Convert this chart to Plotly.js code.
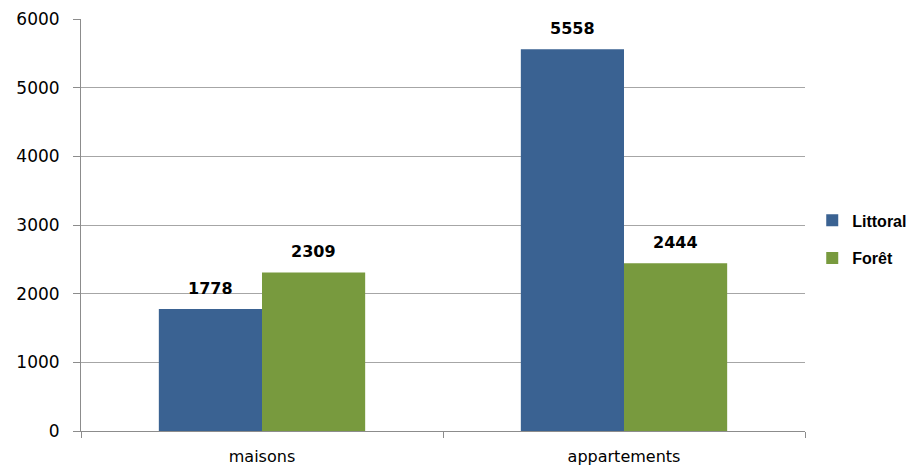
<!DOCTYPE html>
<html><head><meta charset="utf-8">
<script src="https://cdn.plot.ly/plotly-3.0.1.min.js"></script>
<style>body{margin:0;background:#fff}#c{width:910px;height:468px}</style>
</head><body><div id="c"></div>
<script>
const categories = ["maisons", "appartements"];
const littoral = [1778, 5558];
const foret = [2309, 2444];
const seriesNames = ["Littoral", "Forêt"];
const yTicks = [0, 1000, 2000, 3000, 4000, 5000, 6000];

const traces = [
  {type: "bar", name: seriesNames[0], legendgroup: "a", x: categories, y: littoral, marker: {color: "#3A6292"}},
  {type: "bar", name: seriesNames[1], legendgroup: "b", x: categories, y: foret, marker: {color: "#789A3E"}}
];
const labelFont = {family: "DejaVu Sans", size: 16, color: "#000", weight: "bold"};
const annotations = [];
[littoral, foret].forEach((vals, s) => {
  vals.forEach((v, i) => {
    annotations.push({x: categories[i], y: v, xref: "x", yref: "y", text: String(v), showarrow: false,
      xshift: s === 0 ? -51.5 : 51.5, yshift: 9, yanchor: "bottom", font: labelFont});
  });
});
const layout = {
  width: 910, height: 468,
  margin: {l: 81, r: 105, t: 19, b: 37, autoexpand: false},
  paper_bgcolor: "#fff", plot_bgcolor: "#fff",
  barmode: "group", bargap: 0.43, bargroupgap: 0,
  annotations: annotations,
  showlegend: true,
  legend: {x: 1.01, xanchor: "left", y: 0.465, yanchor: "middle", font: {family: "Liberation Sans", size: 16, color: "#000", weight: "bold"},
    tracegroupgap: 14, itemwidth: 30, bgcolor: "rgba(0,0,0,0)"},
  xaxis: {type: "category", showline: true, linecolor: "#8c8c8c", linewidth: 1, ticks: "outside", tickson: "boundaries", ticklen: 6, tickcolor: "#8c8c8c",
    tickfont: {family: "DejaVu Sans", size: 16, color: "#000"}, ticklabelstandoff: 11, showgrid: false},
  yaxis: {range: [0, 6000], tickvals: yTicks, ticktext: yTicks.map(String), showline: true, linecolor: "#8c8c8c", linewidth: 1,
    ticks: "outside", ticklen: 7, tickcolor: "#8c8c8c", showgrid: true, gridcolor: "#a6a6a6", gridwidth: 1,
    tickfont: {family: "DejaVu Sans", size: 17, color: "#000"}, ticklabelstandoff: 10, zeroline: false}
};
Plotly.newPlot("c", traces, layout, {displayModeBar: false, staticPlot: true});
</script></body></html>
